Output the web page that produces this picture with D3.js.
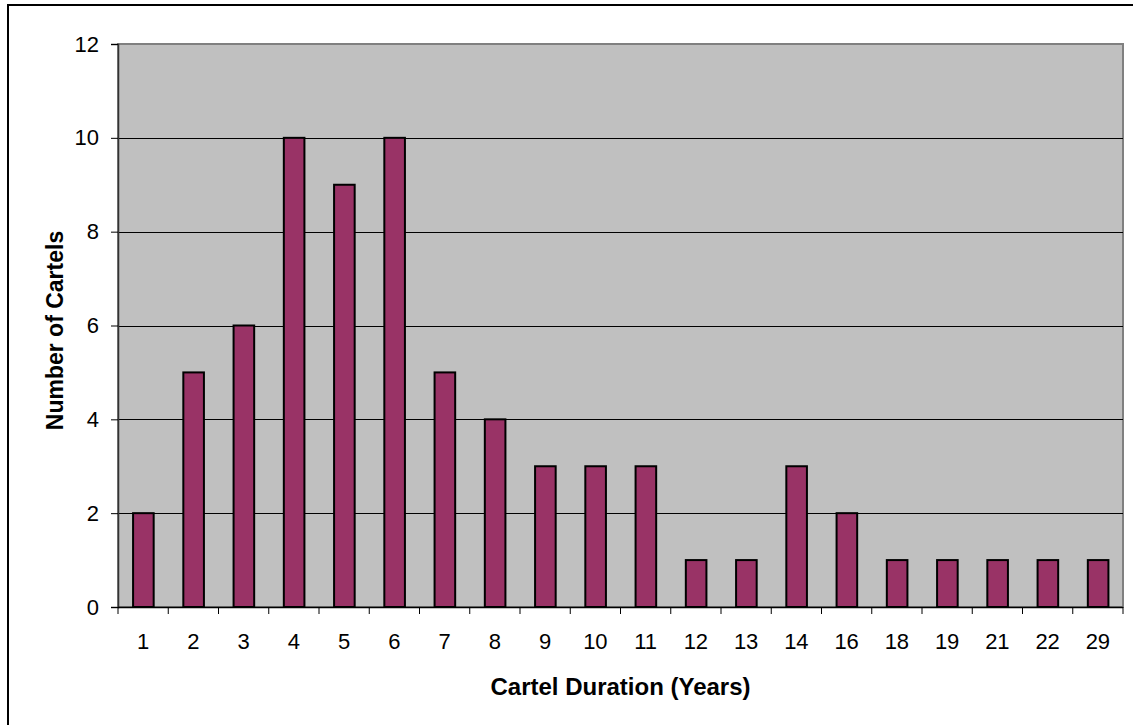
<!DOCTYPE html>
<html>
<head>
<meta charset="utf-8">
<script src="https://cdn.jsdelivr.net/npm/d3@7"></script>
<style>
html,body{margin:0;padding:0;background:#fff;}
svg{display:block;}
text{font-family:"Liberation Sans",Arial,sans-serif;fill:#000;}
</style>
</head>
<body>
<svg id="chart" width="1133" height="725"></svg>
<script>
const categories = ["1","2","3","4","5","6","7","8","9","10","11","12","13","14","16","18","19","21","22","29"];
const counts = [2,5,6,10,9,10,5,4,3,3,3,1,1,3,2,1,1,1,1,1];
const yTicks = [0,2,4,6,8,10,12];
const xTitle = "Cartel Duration (Years)";
const yTitle = "Number of Cartels";

const svg = d3.select("#chart");
const L = 118, R = 1123, T = 44, B = 607;

// outer chart border
svg.append("rect").attr("x",8).attr("y",5).attr("width",1140).attr("height",730)
  .attr("fill","#fff").attr("stroke","#000").attr("stroke-width",2);

const xb = d3.scaleBand().domain(categories).range([L,R]);
const y = d3.scaleLinear().domain([0,12]).range([B,T]);

// plot area
svg.append("rect").attr("x",L).attr("y",T).attr("width",R-L).attr("height",B-T)
  .attr("fill","#C0C0C0").attr("stroke","#808080").attr("stroke-width",2);

// gridlines
svg.append("g").selectAll("line").data(yTicks.filter(d=>d>0 && d<12)).join("line")
  .attr("x1",L).attr("x2",R).attr("y1",d=>Math.round(y(d))+0.5).attr("y2",d=>Math.round(y(d))+0.5)
  .attr("stroke","#000").attr("stroke-width",1);

// bars
svg.append("g").selectAll("rect").data(counts).join("rect")
  .attr("x",(d,i)=>xb(categories[i]) + xb.bandwidth()*0.3)
  .attr("width",xb.bandwidth()*0.41)
  .attr("y",d=>y(d))
  .attr("height",d=>B-y(d))
  .attr("fill","#993366").attr("stroke","#000").attr("stroke-width",2);

// y axis
const yAxis = d3.axisLeft(y).tickValues(yTicks).tickSize(7).tickPadding(12);
const gy = svg.append("g").attr("transform",`translate(${L},0)`).call(yAxis);
gy.attr("font-size",null).attr("font-family",null);
gy.select(".domain").attr("stroke","#333").attr("stroke-width",1.5);
gy.selectAll(".tick line").attr("stroke","#000");
gy.selectAll(".tick text").style("font-size","22px");

// x axis
const gx = svg.append("g").attr("transform",`translate(0,${B})`);
gx.append("line").attr("x1",L).attr("x2",R).attr("y1",0.5).attr("y2",0.5).attr("stroke","#000").attr("stroke-width",1.5);
const bounds = categories.map(c=>xb(c)).concat([R]);
gx.selectAll("line.tk").data(bounds).join("line").attr("class","tk")
  .attr("x1",d=>d).attr("x2",d=>d).attr("y1",0).attr("y2",7).attr("stroke","#000").attr("stroke-width",1);
gx.selectAll("text").data(categories).join("text")
  .attr("x",d=>xb(d)+xb.bandwidth()/2).attr("y",42)
  .attr("text-anchor","middle").style("font-size","22px").text(d=>d);

// titles
svg.append("text").attr("x",(L+R)/2).attr("y",695).attr("text-anchor","middle")
  .style("font-size","24px").style("font-weight","bold").text(xTitle);
svg.append("text").attr("transform",`translate(63,${(233+428)/2}) rotate(-90)`).attr("text-anchor","middle")
  .style("font-size","23px").style("font-weight","bold").text(yTitle);
</script>
</body>
</html>
